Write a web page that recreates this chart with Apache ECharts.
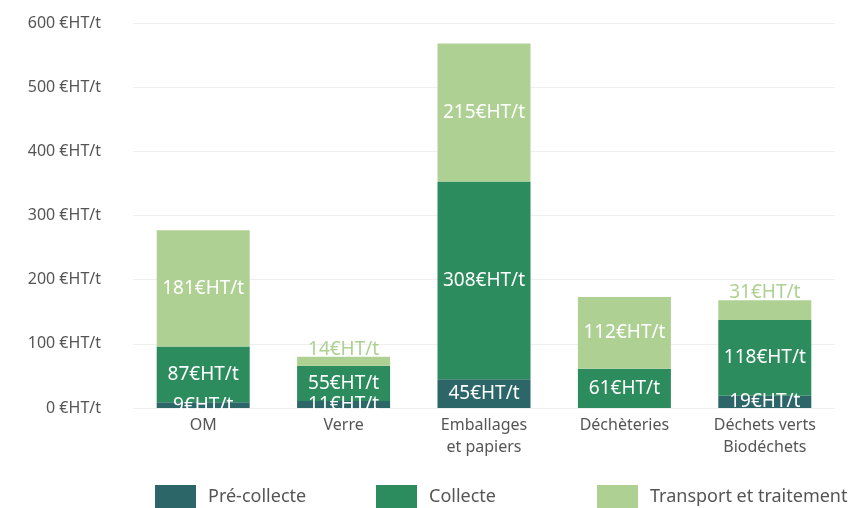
<!DOCTYPE html>
<html>
<head>
<meta charset="utf-8">
<script src="https://cdn.jsdelivr.net/npm/echarts@6/dist/echarts.min.js"></script>
<style>
  html, body { margin: 0; padding: 0; background: #fff; }
  #main { width: 860px; height: 508px; }
</style>
</head>
<body>
<div id="main"></div>
<script>
// categories and values
var categories = ['OM', 'Verre', 'Emballages\net papiers', 'Déchèteries', 'Déchets verts\nBiodéchets'];
var preCollecte = [9, 11, 45, 0, 19];
var collecte = [87, 55, 308, 61, 118];
var transport = [181, 14, 215, 112, 31];
var yTicks = [0, 100, 200, 300, 400, 500, 600];

var colors = ['#2c6669', '#2c8c5d', '#aed193'];
var FONT = 'Noto Sans';

function lbl(v) {
  return v + '€HT/t';
}

// small transport values are written above the bar
function transportData() {
  return transport.map(function (v) {
    if (v < 40) {
      return { value: v, label: { position: 'top', color: colors[2], distance: -2 } };
    }
    return v;
  });
}

function preData() {
  return preCollecte.map(function (v) {
    if (v === 0) return { value: v, label: { show: false } };
    return v;
  });
}

var baseLabel = {
  show: true,
  position: 'inside',
  color: '#fff',
  fontFamily: FONT,
  fontSize: 19,
  formatter: function (p) { return lbl(p.value); }
};

function legendAt(x, name) {
  return {
    left: x,
    top: 480,
    itemWidth: 41,
    itemHeight: 23,
    icon: 'rect',
    data: [name],
    textStyle: { color: '#555', fontFamily: FONT, fontSize: 18, padding: [0, 0, 0, 7] }
  };
}

var chart = echarts.init(document.getElementById('main'));
chart.setOption({
  animation: false,
  color: colors,
  grid: { left: 133, right: 25, top: 23, bottom: 100 },
  legend: [
    legendAt(150, 'Pré-collecte'),
    legendAt(371, 'Collecte'),
    legendAt(592, 'Transport et traitement')
  ],
  xAxis: {
    type: 'category',
    data: categories,
    axisLine: { show: false },
    axisTick: { show: false },
    axisLabel: { color: '#555', fontFamily: FONT, fontSize: 16, lineHeight: 22, margin: 6 }
  },
  yAxis: {
    type: 'value',
    min: yTicks[0],
    max: yTicks[yTicks.length - 1],
    interval: 100,
    axisLabel: {
      color: '#555', fontFamily: FONT, fontSize: 16, margin: 32,
      formatter: function (v) { return v + ' €HT/t'; }
    },
    splitLine: { lineStyle: { color: '#eeeeee' } }
  },
  series: [
    { name: 'Pré-collecte', type: 'bar', stack: 'a', barWidth: 93, data: preData(), label: baseLabel },
    { name: 'Collecte', type: 'bar', stack: 'a', barWidth: 93, data: collecte, label: baseLabel },
    { name: 'Transport et traitement', type: 'bar', stack: 'a', barWidth: 93, data: transportData(), label: baseLabel }
  ]
});
</script>
</body>
</html>
